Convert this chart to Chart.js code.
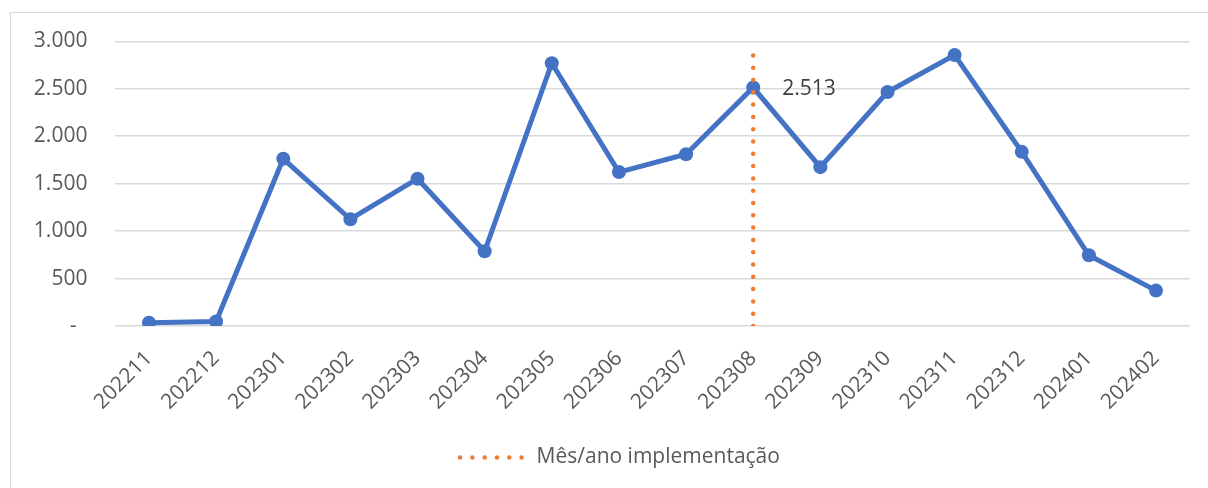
<!DOCTYPE html>
<html>
<head>
<meta charset="utf-8">
<script src="https://cdn.jsdelivr.net/npm/chart.js@4.4.1/dist/chart.umd.min.js"></script>
<style>
  html, body { margin: 0; padding: 0; background: #fff; overflow: hidden; }
  #wrap { position: relative; width: 1208px; height: 488px; }
  #frame {
    position: absolute; left: 10px; top: 12px; width: 1220px; height: 500px;
    border: 1.5px solid #d9d9d9; box-sizing: border-box;
  }
  #chart { position: absolute; left: 0; top: 0; }
</style>
</head>
<body>
<div id="wrap">
  <div id="frame"></div>
  <canvas id="chart" width="1208" height="488"></canvas>
</div>
<script>
// months (YYYYMM) on the x axis
const months = [
  "202211", "202212", "202301", "202302", "202303", "202304", "202305", "202306",
  "202307", "202308", "202309", "202310", "202311", "202312", "202401", "202402",
];

// monthly totals
const totals = [35, 48, 1762, 1125, 1552, 787, 2769, 1622, 1810, 2513, 1674, 2465, 2856, 1835, 745, 373];

// implementation month marker (vertical dotted line)
const implMonth = "202308";
const implLineTop = 2860;
const implLabel = "Mês/ano implementação";

// y axis ticks
const yMin = 0;
const yMax = 3000;
const yStep = 500;

const FONT = "'Open Sans', 'Noto Sans', sans-serif";
Chart.defaults.font.family = FONT;
Chart.defaults.color = "#595959";

const DOTS = [0, 12.3];

const fmt = (v) => v.toString().replace(/\B(?=(\d{3})+(?!\d))/g, ".");

// label next to the implementation month point
const pointLabel = {
  id: "pointLabel",
  afterDatasetsDraw(chart) {
    const idx = months.indexOf(implMonth);
    const meta = chart.getDatasetMeta(1);
    const pt = meta.data[idx];
    if (!pt) return;
    const ctx = chart.ctx;
    ctx.save();
    ctx.font = "21px " + FONT;
    ctx.fillStyle = "#404040";
    ctx.textAlign = "left";
    ctx.textBaseline = "middle";
    ctx.fillText(fmt(totals[idx]), pt.x + 29, pt.y + 1);
    ctx.restore();
  },
};

new Chart(document.getElementById("chart"), {
  type: "line",
  data: {
    labels: months,
    datasets: [
      {
        label: implLabel,
        data: [
          { x: implMonth, y: 0 },
          { x: implMonth, y: implLineTop },
        ],
        borderColor: "#ED7D31",
        backgroundColor: "#ED7D31",
        borderWidth: 4.5,
        borderDash: DOTS,
        borderCapStyle: "round",
        pointRadius: 0,
        fill: false,
      },
      {
        label: "Total",
        data: totals,
        borderColor: "#4472C4",
        backgroundColor: "#4472C4",
        borderWidth: 5,
        pointRadius: 7,
        pointBorderWidth: 0,
        pointBackgroundColor: "#4472C4",
        tension: 0,
        fill: false,
      },
    ],
  },
  options: {
    responsive: false,
    animation: false,
    layout: { padding: { left: 32, right: 0, top: 41.3, bottom: 10 } },
    plugins: {
      tooltip: { enabled: false },
      legend: {
        position: "bottom",
        labels: {
          // only the marker series goes in the legend, drawn as dots
          filter: (item) => {
            if (item.datasetIndex !== 0) return false;
            item.lineDash = DOTS;
            item.lineCap = "round";
            item.lineWidth = 4.5;
            item.strokeStyle = "#ED7D31";
            return true;
          },
          usePointStyle: true,
          pointStyle: "line",
          pointStyleWidth: 66,
          padding: 10,
          color: "#595959",
          font: { size: 21 },
        },
      },
    },
    scales: {
      x: {
        offset: true,
        grid: { display: false },
        border: { display: false },
        ticks: {
          minRotation: 45,
          maxRotation: 45,
          autoSkip: false,
          padding: 12,
          color: "#595959",
          font: { size: 21 },
        },
        afterFit: (scale) => { scale.height = 111; },
      },
      y: {
        min: yMin,
        max: yMax,
        grid: { color: "#d9d9d9", lineWidth: 1.5, drawTicks: false },
        border: { display: false },
        ticks: {
          stepSize: yStep,
          padding: 28,
          color: "#595959",
          font: { size: 21 },
          callback: (v) => (v === 0 ? "-  " : fmt(v)),
        },
        afterFit: (scale) => { scale.width = 83.4; },
      },
      // empty right-hand margin so the plot ends where the reference does
      yRight: {
        position: "right",
        grid: { display: false, drawTicks: false },
        border: { display: false },
        ticks: { display: false },
        afterFit: (scale) => { scale.width = 18.4; },
      },
    },
  },
  plugins: [pointLabel],
});
</script>
</body>
</html>
